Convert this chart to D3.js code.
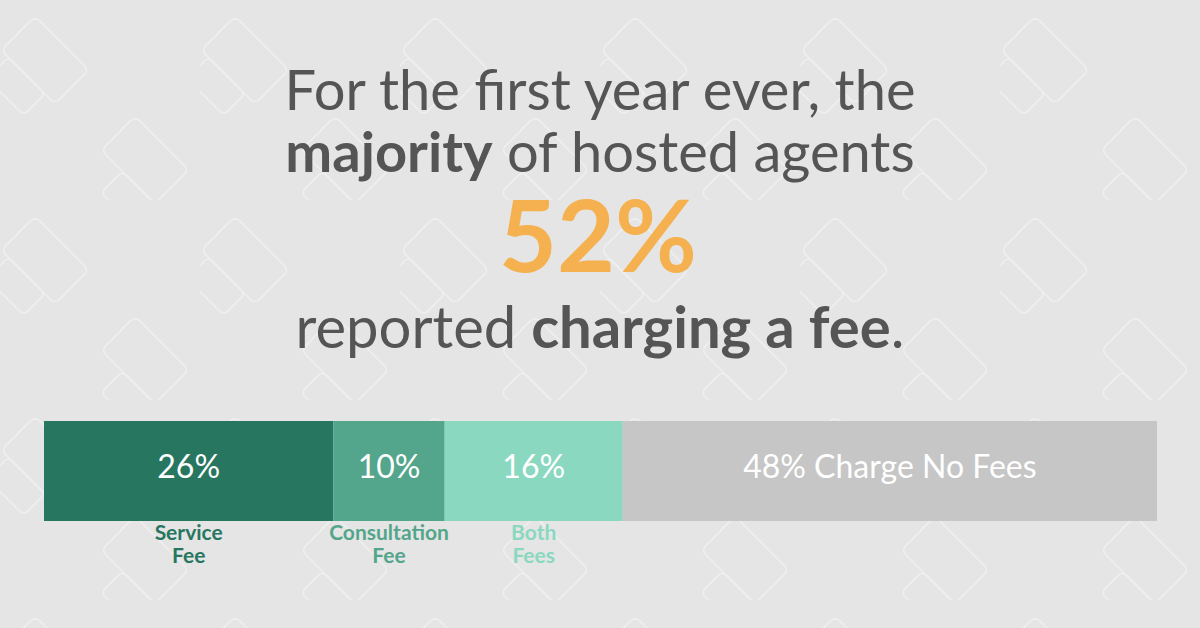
<!DOCTYPE html>
<html><head><meta charset="utf-8">
<script src="https://cdn.jsdelivr.net/npm/d3@7"></script>
<style>body{margin:0;background:#e5e5e5;}svg{display:block;}</style>
</head><body>
<svg id="c" width="1200" height="628"></svg>
<script>
var categories = ["Service Fee", "Consultation Fee", "Both Fees", "Charge No Fees"];
var values = [26, 10, 16, 48];
var barLabels = ["26%", "10%", "16%", "48% Charge No Fees"];
var subLabels = [["Service", "Fee"], ["Consultation", "Fee"], ["Both", "Fees"], null];
var colors = ["#267660", "#53a58b", "#8bd8c0", "#c6c6c6"];

var svg = d3.select("#c");
var font = "Lato, 'Open Sans', sans-serif";

// background pattern of speech bubbles
var defs = svg.append("defs");
var pat = defs.append("pattern").attr("id", "bub").attr("patternUnits", "userSpaceOnUse")
  .attr("width", 200).attr("height", 200);
var g = pat.append("g").attr("fill", "none").attr("stroke", "#efefef").attr("stroke-width", 1.5);
[[45, 60, 0], [145, 160, 1]].forEach(function (d) {
  var b = g.append("g").attr("transform", "translate(" + d[0] + "," + d[1] + ") rotate(45)");
  b.append("rect").attr("x", -38).attr("y", -24).attr("width", 76).attr("height", 48).attr("rx", 6);
  b.append("rect").attr("x", -28 + d[2] * 20).attr("y", 24).attr("width", 52).attr("height", 30).attr("rx", 5);
});
svg.append("rect").attr("width", 1200).attr("height", 628).attr("fill", "#e5e5e5");
svg.append("rect").attr("width", 1200).attr("height", 628).attr("fill", "url(#bub)");

// headline
svg.append("text").attr("x", 600).attr("y", 110).attr("text-anchor", "middle")
  .attr("font-family", font).attr("font-size", 56).attr("fill", "#555")
  .text("For the first year ever, the");
var t2 = svg.append("text").attr("x", 600).attr("y", 172).attr("text-anchor", "middle")
  .attr("font-family", font).attr("font-size", 56).attr("fill", "#555");
t2.append("tspan").attr("font-weight", "bold").text("majority");
t2.append("tspan").text(" of hosted agents");
svg.append("text").attr("x", 598).attr("y", 272).attr("text-anchor", "middle")
  .attr("font-family", font).attr("font-size", 100).attr("font-weight", "bold").attr("fill", "#f5b14f")
  .text("52%");
var t3 = svg.append("text").attr("x", 600).attr("y", 348).attr("text-anchor", "middle")
  .attr("font-family", font).attr("font-size", 58).attr("fill", "#555");
t3.append("tspan").text("reported ");
t3.append("tspan").attr("font-weight", "bold").text("charging a fee");
t3.append("tspan").text(".");

// stacked bar
var x = d3.scaleLinear().domain([0, d3.sum(values)]).range([44, 1157]);
var starts = [];
values.reduce(function (a, v) { starts.push(a); return a + v; }, 0);
var bar = svg.append("g");
bar.selectAll("rect").data(values).join("rect")
  .attr("x", function (d, i) { return x(starts[i]); })
  .attr("width", function (d, i) { return x(starts[i] + d) - x(starts[i]); })
  .attr("y", 421).attr("height", 100)
  .attr("fill", function (d, i) { return colors[i]; });
bar.selectAll("text.v").data(values).join("text").attr("class", "v")
  .attr("x", function (d, i) { return x(starts[i] + d / 2); })
  .attr("y", 478).attr("text-anchor", "middle").attr("font-family", font)
  .attr("font-size", 32).attr("fill", "#fff")
  .text(function (d, i) { return barLabels[i]; });

values.forEach(function (d, i) {
  if (!subLabels[i]) return;
  var tx = svg.append("text").attr("x", x(starts[i] + d / 2)).attr("y", 540)
    .attr("text-anchor", "middle").attr("font-family", font).attr("font-size", 21)
    .attr("font-weight", "bold").attr("fill", colors[i]);
  subLabels[i].forEach(function (s, j) {
    tx.append("tspan").attr("x", x(starts[i] + d / 2)).attr("dy", j ? 23 : 0).text(s);
  });
});
</script>
</body></html>
